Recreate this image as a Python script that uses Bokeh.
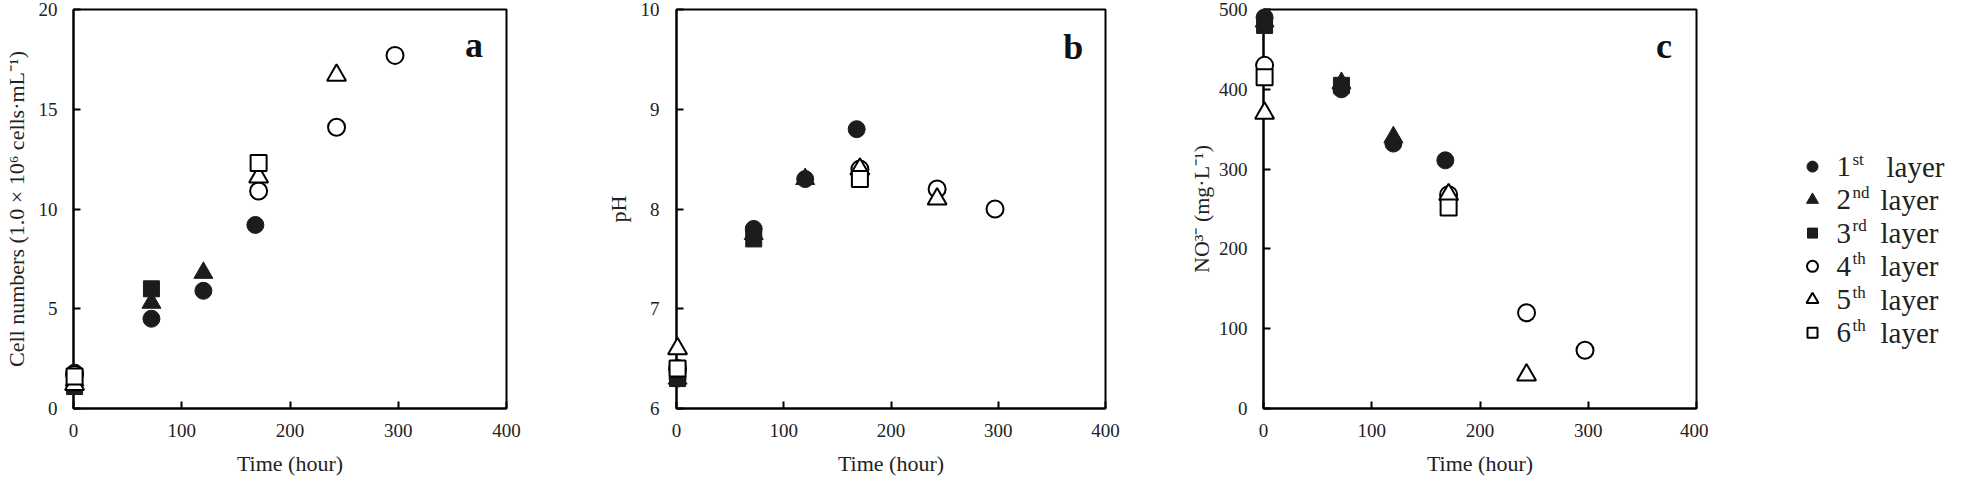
from bokeh.plotting import figure
from bokeh.layouts import row
from bokeh.models import Range1d, Label
from bokeh.core.properties import value
from bokeh.embed import file_html
from bokeh.resources import INLINE

# ---- data ----
layers = ["1st", "2nd", "3rd", "4th", "5th", "6th"]
layer_nums = ["1", "2", "3", "4", "5", "6"]
layer_sups = ["st", "nd", "rd", "th", "th", "th"]

t_1 = [1, 72, 120, 168]
t_2 = [1, 72, 120]
t_3 = [1, 72]
t_4 = [1, 171, 243, 297]
t_5 = [1, 171, 243]
t_6 = [1, 171]

cells_1 = [1.8, 4.5, 5.9, 9.2]
cells_2 = [1.4, 5.3, 6.8]
cells_3 = [1.1, 6.0]
cells_4 = [1.7, 10.9, 14.1, 17.7]
cells_5 = [1.2, 11.6, 16.7]
cells_6 = [1.6, 12.3]

ph_1 = [6.3, 7.8, 8.3, 8.8]
ph_2 = [6.3, 7.75, 8.3]
ph_3 = [6.3, 7.7]
ph_4 = [6.4, 8.4, 8.2, 8.0]
ph_5 = [6.6, 8.4, 8.1]
ph_6 = [6.4, 8.3]

no3_1 = [490, 400, 332, 311]
no3_2 = [485, 408, 340]
no3_3 = [480, 405]
no3_4 = [430, 268, 120, 73]
no3_5 = [370, 268, 42]
no3_6 = [415, 252]

x_ticks = [0, 100, 200, 300, 400]
ticks_a = [0, 5, 10, 15, 20]
ticks_b = [6, 7, 8, 9, 10]
ticks_c = [0, 100, 200, 300, 400, 500]

times = [t_1, t_2, t_3, t_4, t_5, t_6]
FONT = "Liberation Serif"
DARK = "#1c1c1c"
styles = [
    dict(marker="circle", size=17, fill_color=DARK, line_color=DARK, line_width=1),
    dict(marker="triangle", size=19, fill_color=DARK, line_color=DARK, line_width=1),
    dict(marker="square", size=16, fill_color=DARK, line_color=DARK, line_width=1),
    dict(marker="circle", size=17, fill_color="white", line_color="black", line_width=2),
    dict(marker="triangle", size=19, fill_color="white", line_color="black", line_width=2),
    dict(marker="square", size=16, fill_color="white", line_color="black", line_width=2),
]

H = 480
TOP = 9
BOTTOM = 72


def panel(yr, yticks, ylabel, ys, letter, letter_y, width, minl, minr, ystand, ylstand):
    p = figure(width=width, height=H, min_border_left=minl,
               min_border_right=minr, min_border_top=TOP, min_border_bottom=BOTTOM,
               x_range=Range1d(0, 400), y_range=Range1d(*yr),
               output_backend="svg", toolbar_location=None)
    p.title.visible = False
    p.xgrid.visible = False
    p.ygrid.visible = False
    p.outline_line_color = "black"
    p.outline_line_width = 2
    p.outline_line_alpha = 1
    p.xaxis.ticker = x_ticks
    p.yaxis.ticker = yticks
    for ax in p.axis:
        ax.axis_line_width = 2
        ax.axis_line_color = "black"
        ax.major_tick_in = 7
        ax.major_tick_out = 0
        ax.major_tick_line_width = 2
        ax.major_tick_line_color = "black"
        ax.minor_tick_line_color = None
        ax.major_label_text_font = FONT
        ax.major_label_text_font_size = "19px"
        ax.major_label_text_color = "#222222"
        ax.axis_label_text_font = FONT
        ax.axis_label_text_font_size = "22px"
        ax.axis_label_text_font_style = "normal"
        ax.axis_label_text_color = "#222222"
    p.xaxis.axis_label = "Time (hour)"
    p.xaxis.major_label_standoff = 15
    p.xaxis.axis_label_standoff = 11
    p.yaxis.axis_label = ylabel
    p.yaxis.major_label_standoff = ystand
    p.yaxis.axis_label_standoff = ylstand
    for t, y, st in zip(times, ys, styles):
        p.scatter(t, y, level="overlay", **st)
    p.add_layout(Label(x=370, y=letter_y, text=letter, text_font=FONT,
                       text_font_style="bold", text_font_size="36px",
                       text_align="center", text_baseline="middle",
                       text_color="#111111"))
    return p


fa = panel((0, 20), ticks_a, "Cell numbers (1.0 \u00d7 10\u2076 cells\u00b7mL\u207b\u00b9)",
           [cells_1, cells_2, cells_3, cells_4, cells_5, cells_6], "a", 18.2,
           602, 73, 96, 16, 7)
fb = panel((6, 10), ticks_b, "pH",
           [ph_1, ph_2, ph_3, ph_4, ph_5, ph_6], "b", 9.62,
           583, 70, 80, 17, 7)
fc = panel((0, 500), ticks_c, "NO\u00b3\u207b (mg\u00b7L\u207b\u00b9)",
           [no3_1, no3_2, no3_3, no3_4, no3_5, no3_6], "c", 454,
           523, 78, 12, 16, 2)

# ---- legend panel ----
LW = 237
fl = figure(width=LW, height=H, x_range=Range1d(0, LW), y_range=Range1d(H, 0),
            x_axis_location=None, y_axis_location=None, min_border=0,
            output_backend="svg", toolbar_location=None)
fl.title.visible = False
fl.xgrid.visible = False
fl.ygrid.visible = False
fl.outline_line_color = None
rows_y = [189 + 40 * i for i in range(len(layers))]
for i, st in enumerate(styles):
    s = dict(st)
    s["size"] = {"circle": 11, "triangle": 12, "square": 10}[s["marker"]]
    fl.scatter([104], [rows_y[i]], **s)
fl.text([128] * 6, rows_y, text=layer_nums, text_font=value(FONT),
        text_font_size="29px", text_baseline="middle", text_align="left",
        text_color="#222222")
fl.text([144] * 6, [y - 9 for y in rows_y], text=layer_sups, text_font=value(FONT),
        text_font_size="17px", text_baseline="middle", text_align="left",
        text_color="#222222")
fl.text([178] + [172] * 5, rows_y, text=["layer"] * 6, text_font=value(FONT),
        text_font_size="29px", text_baseline="middle", text_align="left",
        text_color="#222222")

layout = row(fa, fb, fc, fl)
open("out.html", "w").write(file_html(layout, INLINE))
